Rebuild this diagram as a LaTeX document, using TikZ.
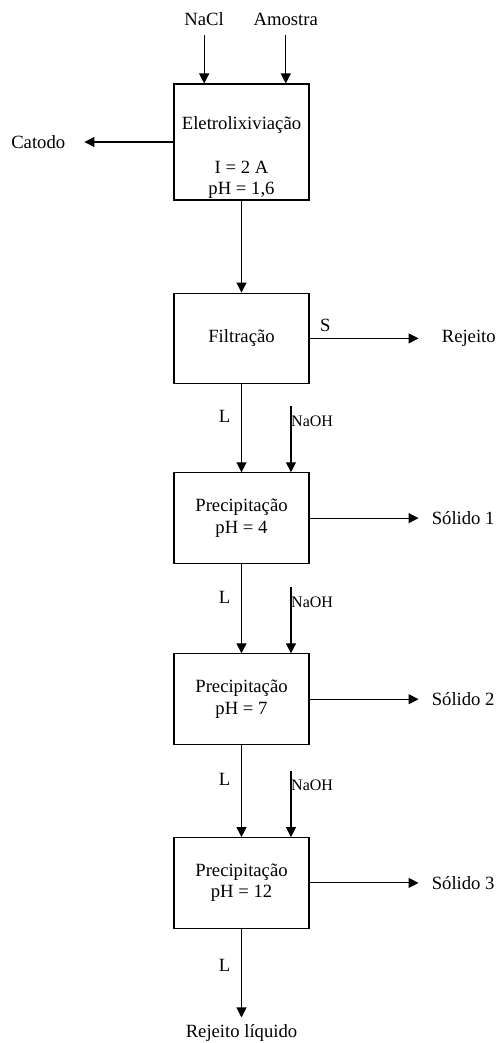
\documentclass[tikz,border=0pt]{standalone}
\usepackage{fontspec}
\setmainfont{Liberation Serif}
\usetikzlibrary{positioning,arrows.meta}
\tikzset{
  proc/.style ={rectangle,draw=black,line width=0.8pt,align=center,inner sep=0pt,
                minimum width=101.25pt,minimum height=68pt,font=\fontsize{14pt}{16pt}\selectfont},
  term/.style ={inner sep=0pt,font=\fontsize{14pt}{16pt}\selectfont},
  reag/.style ={inner sep=0pt,font=\fontsize{12pt}{14pt}\selectfont},
  lbl/.style  ={inner sep=0pt,font=\fontsize{14pt}{16pt}\selectfont},
  flow/.style ={-{Triangle[length=7.5pt,width=7.5pt]},line width=0.8pt,draw=black},
}

\begin{document}
\begin{tikzpicture}[x=0.75pt,y=-0.75pt]
  \useasboundingbox (0,0) rectangle (496,1043);
  % process chain
  \node[proc,minimum height=87pt] (elet) at (241.5,142)
    {\rule{0pt}{33.2pt}Eletrolixiviação\\[16.5pt]I = 2 A\\pH = 1,6};
  \node[proc,below=69pt of elet] (filt) {Filtração};
  \node[proc,below=66pt of filt] (prec1) {Precipitação\\pH = 4};
  \node[proc,below=67pt of prec1] (prec2) {Precipitação\\pH = 7};
  \node[proc,below=69pt of prec2] (prec3) {Precipitação\\pH = 12};
  % feeds and products
  \node[term,above=43pt of elet,xshift=-28pt] (nacl) {NaCl};
  \node[term,above=43pt of elet,xshift=33.2pt] (amos) {Amostra};
  \node[term,left=81pt of elet] (cat) {Catodo};
  \node[term,right=99pt of filt] (rej) {Rejeito};
  \node[term,right=91.5pt of prec1] (sol1) {Sólido 1};
  \node[term,right=91.5pt of prec2] (sol2) {Sólido 2};
  \node[term,right=91.5pt of prec3] (sol3) {Sólido 3};
  \node[term,below=71.5pt of prec3] (rejliq) {Rejeito líquido};
  \node[reag,anchor=west] (naoh1) at ([xshift=37.1pt,yshift=38.6pt]prec1.north) {NaOH};
  \node[reag,anchor=west] (naoh2) at ([xshift=37.1pt,yshift=38.6pt]prec2.north) {NaOH};
  \node[reag,anchor=west] (naoh3) at ([xshift=37.1pt,yshift=38.6pt]prec3.north) {NaOH};
  % connectors
  \draw[flow,shorten <=6.75pt] (nacl) -- (nacl |- elet.north);
  \draw[flow,shorten <=6.75pt] (amos) -- (amos |- elet.north);
  \draw[flow,shorten >=14.25pt] (elet) -- (cat);
  \draw[flow] (elet) -- (filt);
  \draw[flow,shorten >=17.25pt] (filt) -- node[lbl,at start,anchor=south west,xshift=7.5pt,yshift=4.5pt] (s1) {S} (rej);
  \draw[flow] (filt) -- node[lbl,pos=0.37,left=8pt] (l1) {L} (prec1);
  \draw[flow] (prec1) -- node[lbl,pos=0.37,left=8pt] (l2) {L} (prec2);
  \draw[flow] (prec2) -- node[lbl,pos=0.37,left=8pt] (l3) {L} (prec3);
  \draw[flow,shorten >=5pt] (prec3) -- node[lbl,pos=0.38,left=8pt] (l4) {L} (rejliq);
  \draw[flow,shorten >=9.75pt] (prec1) -- (sol1);
  \draw[flow,shorten >=9.75pt] (prec2) -- (sol2);
  \draw[flow,shorten >=9.75pt] (prec3) -- (sol3);
  \draw[flow] ([yshift=10.9pt]naoh1.west) -- (naoh1.west |- prec1.north);
  \draw[flow] ([yshift=10.9pt]naoh2.west) -- (naoh2.west |- prec2.north);
  \draw[flow] ([yshift=10.9pt]naoh3.west) -- (naoh3.west |- prec3.north);
\end{tikzpicture}
\end{document}
